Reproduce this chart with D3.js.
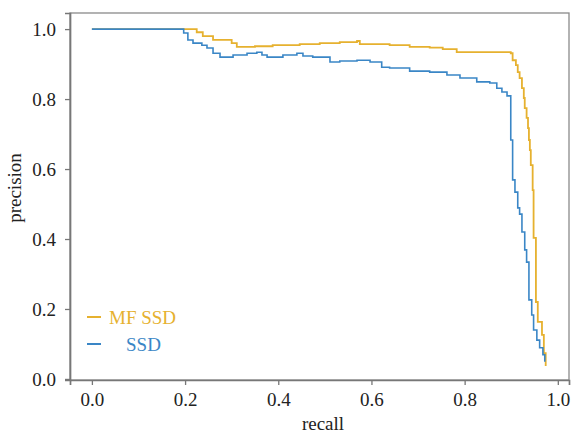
<!DOCTYPE html>
<html>
<head>
<meta charset="utf-8">
<script src="https://cdn.jsdelivr.net/npm/d3@7"></script>
<style>
  html, body { margin: 0; padding: 0; background: #fff; }
  svg { display: block; }
  text { font-family: "Liberation Serif", "Times New Roman", serif; }
</style>
</head>
<body>
<svg id="chart" width="576" height="434"></svg>
<script>
// ---- data (recall, precision) step points ----
const mfRecall = [0, 0.225, 0.238, 0.260, 0.300, 0.311, 0.350, 0.388, 0.446, 0.489, 0.532, 0.569, 0.575, 0.639, 0.682, 0.725, 0.753, 0.783, 0.899,
  0.903, 0.910, 0.914, 0.918, 0.923, 0.927, 0.929, 0.933, 0.936, 0.938, 0.940, 0.942, 0.946, 0.948, 0.953, 0.957, 0.966, 0.970, 0.974];
const mfPrecision = [1.000, 0.991, 0.980, 0.969, 0.960, 0.949, 0.951, 0.954, 0.957, 0.960, 0.963, 0.966, 0.957, 0.954, 0.949, 0.947, 0.943, 0.934, 0.931,
  0.911, 0.897, 0.877, 0.860, 0.831, 0.803, 0.774, 0.746, 0.717, 0.683, 0.654, 0.611, 0.540, 0.403, 0.220, 0.163, 0.126, 0.074, 0.037];

const ssdRecall = [0, 0.197, 0.206, 0.217, 0.236, 0.247, 0.260, 0.275, 0.303, 0.333, 0.354, 0.365, 0.376, 0.410, 0.440, 0.453, 0.474, 0.511, 0.532, 0.569,
  0.597, 0.622, 0.639, 0.682, 0.725, 0.762, 0.790, 0.826, 0.854, 0.869, 0.880, 0.891,
  0.899, 0.903, 0.908, 0.914, 0.918, 0.923, 0.929, 0.933, 0.938, 0.944, 0.948, 0.955, 0.961, 0.968, 0.972];
const ssdPrecision = [1.000, 0.989, 0.969, 0.960, 0.954, 0.946, 0.931, 0.920, 0.926, 0.931, 0.934, 0.926, 0.920, 0.926, 0.931, 0.923, 0.920, 0.906, 0.909, 0.911,
  0.906, 0.891, 0.889, 0.880, 0.877, 0.869, 0.860, 0.849, 0.846, 0.831, 0.820, 0.809,
  0.683, 0.569, 0.534, 0.489, 0.471, 0.420, 0.369, 0.334, 0.226, 0.183, 0.140, 0.111, 0.089, 0.069, 0.049];

const seriesNames = ["MF SSD", "SSD"];
const seriesColors = ["#e6b12f", "#3a86c6"];
const xTicks = [0.0, 0.2, 0.4, 0.6, 0.8, 1.0];
const yTicks = [0.0, 0.2, 0.4, 0.6, 0.8, 1.0];
const xLabel = "recall";
const yLabel = "precision";

// ---- layout ----
const svg = d3.select("#chart");
const pLeft = 70, pRight = 569, pTop = 13, pBottom = 380;
const x = d3.scaleLinear().domain([-0.047, 1.024]).range([pLeft, pRight]);
const y = d3.scaleLinear().domain([-0.003, 1.046]).range([pBottom, pTop]);

const axisColor = "#777";
const textColor = "#222";
const fontSize = "19px";

// frame (top/right)
svg.append("rect")
  .attr("x", pLeft).attr("y", pTop)
  .attr("width", pRight - pLeft).attr("height", pBottom - pTop)
  .attr("fill", "none").attr("stroke", "#8a8a8a").attr("stroke-width", 1.3);

// axes
const xAxis = svg.append("g").attr("transform", `translate(0,${pBottom})`)
  .call(d3.axisBottom(x).tickValues(xTicks).tickFormat(d3.format(".1f")).tickSize(5).tickPadding(8));
const yAxis = svg.append("g").attr("transform", `translate(${pLeft},0)`)
  .call(d3.axisLeft(y).tickValues(yTicks).tickFormat(d3.format(".1f")).tickSize(5).tickPadding(9));

[xAxis, yAxis].forEach(g => {
  g.select(".domain").attr("stroke", axisColor).attr("stroke-width", 1.7);
  g.selectAll(".tick line").attr("stroke", axisColor).attr("stroke-width", 1.3);
  g.selectAll(".tick text")
    .attr("fill", textColor)
    .style("font-family", '"Liberation Serif", serif')
    .style("font-size", fontSize);
});

// axis labels
svg.append("text")
  .attr("x", 323).attr("y", 430)
  .attr("text-anchor", "middle")
  .attr("fill", textColor)
  .style("font-size", fontSize)
  .text(xLabel);
svg.append("text")
  .attr("transform", "translate(21,188) rotate(-90)")
  .attr("text-anchor", "middle")
  .attr("fill", textColor)
  .style("font-size", fontSize)
  .text(yLabel);

// lines
const line = d3.line().x(d => x(d[0])).y(d => y(d[1])).curve(d3.curveStepAfter);
const mfData = mfRecall.map((r, i) => [r, mfPrecision[i]]);
const ssdData = ssdRecall.map((r, i) => [r, ssdPrecision[i]]);

svg.append("path").datum(mfData)
  .attr("d", line).attr("fill", "none")
  .attr("stroke", seriesColors[0]).attr("stroke-width", 1.8);
svg.append("path").datum(ssdData)
  .attr("d", line).attr("fill", "none")
  .attr("stroke", seriesColors[1]).attr("stroke-width", 1.6);

// legend
const legend = [
  { name: seriesNames[0], color: seriesColors[0], ly: 317, tx: 109 },
  { name: seriesNames[1], color: seriesColors[1], ly: 344, tx: 126 }
];
legend.forEach(l => {
  svg.append("line")
    .attr("x1", 87).attr("x2", 101).attr("y1", l.ly).attr("y2", l.ly)
    .attr("stroke", l.color).attr("stroke-width", 2);
  svg.append("text")
    .attr("x", l.tx).attr("y", l.ly + 6.5)
    .attr("fill", l.color)
    .style("font-size", fontSize)
    .text(l.name);
});
</script>
</body>
</html>
